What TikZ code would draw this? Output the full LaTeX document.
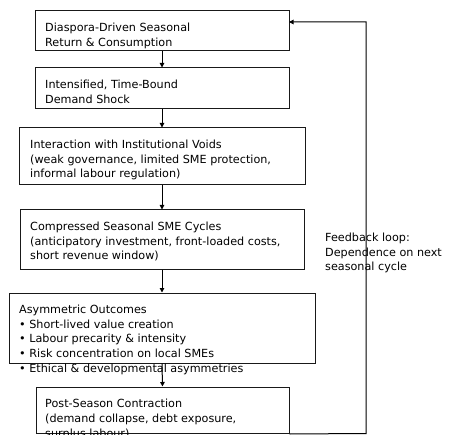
\documentclass[tikz,border=0pt]{standalone}
\usepackage{fontspec}
\setmainfont{DejaVu Sans}
\usetikzlibrary{arrows.meta}
\begin{document}
\begin{tikzpicture}[x=1pt,y=-1pt,
  box/.style={draw=black!90,line width=1pt,inner sep=0pt,rectangle},
  txt/.style={anchor=north west,inner sep=0pt,align=left,font=\fontsize{11.2}{14.8}\selectfont},
  flow/.style={draw=black,line width=1pt,-{Triangle[length=4.5pt,width=4.5pt]}}]
\clip (0,0) rectangle (454,435);
\fill[white] (0,0) rectangle (454,435);
% boxes
\node[box,minimum width=254pt,minimum height=40pt] (b1) at (162,31) {};
\node[box,minimum width=254pt,minimum height=41pt] (b2) at (162,88.5) {};
\node[box,minimum width=286pt,minimum height=57pt] (b3) at (162,156.5) {};
\node[box,minimum width=284pt,minimum height=59pt] (b4) at (162,239.5) {};
\node[box,minimum width=306pt,minimum height=70pt] (b5) at (162,328) {};
\node[box,minimum width=253pt,minimum height=46.5pt] (b6) at (162.5,410.25) {};
% texts
\node[txt] (t1) at (45,22.5) {Diaspora-Driven Seasonal\\Return \& Consumption};
\node[txt] (t2) at (45,79.5) {Intensified, Time-Bound\\Demand Shock};
\node[txt] (t3) at (30,139.5) {Interaction with Institutional Voids\\(weak governance, limited SME protection,\\informal labour regulation)};
\node[txt] (t4) at (30,221.5) {Compressed Seasonal SME Cycles\\(anticipatory investment, front-loaded costs,\\short revenue window)};
\node[txt] (t5) at (19,304.5) {Asymmetric Outcomes\\• Short-lived value creation\\• Labour precarity \& intensity\\• Risk concentration on local SMEs\\• Ethical \& developmental asymmetries};
\node[txt] (t6) at (45,399) {Post-Season Contraction\\(demand collapse, debt exposure,\\surplus labour)};
\node[txt] (fb) at (325,232.5) {Feedback loop:\\Dependence on next\\seasonal cycle};
% arrows
\draw[flow] (b1.south) -- (b2.north);
\draw[flow] (b2.south) -- (b3.north);
\draw[flow] (b3.south) -- (b4.north);
\draw[flow] (b4.south) -- (b5.north);
\draw[flow] (b5.south) -- (b6.north);
\coordinate (c1) at (366,433.5);
\coordinate (c2) at (366,22);
\coordinate (c3) at (289,22);
\draw[flow] (b6.south east) -- (c1) -- (c2) -- (c3);
\end{tikzpicture}
\end{document}
